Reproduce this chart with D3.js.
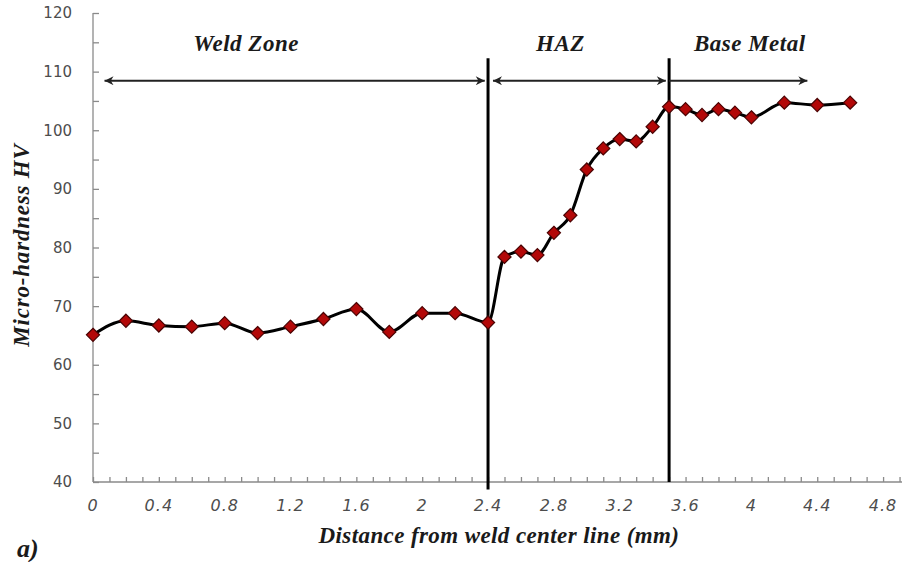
<!DOCTYPE html>
<html>
<head>
<meta charset="utf-8">
<script src="https://cdn.jsdelivr.net/npm/d3@7"></script>
<style>
  body { margin: 0; background: #fff; }
  svg { display: block; }
</style>
</head>
<body>
<div id="chart"></div>
<script>
// distance from weld center line (mm) and micro-hardness (HV)
const distance = [0, 0.2, 0.4, 0.6, 0.8, 1.0, 1.2, 1.4, 1.6, 1.8, 2.0, 2.2, 2.4,
  2.5, 2.6, 2.7, 2.8, 2.9, 3.0, 3.1, 3.2, 3.3, 3.4, 3.5,
  3.6, 3.7, 3.8, 3.9, 4.0, 4.2, 4.4, 4.6];
const hardness = [65.1, 67.5, 66.7, 66.5, 67.1, 65.4, 66.5, 67.8, 69.5, 65.6, 68.8, 68.8, 67.2,
  78.4, 79.3, 78.7, 82.5, 85.5, 93.3, 96.9, 98.5, 98.1, 100.6, 104.0,
  103.6, 102.6, 103.6, 103.0, 102.2, 104.7, 104.3, 104.7];

const xTicks = [0, 0.4, 0.8, 1.2, 1.6, 2, 2.4, 2.8, 3.2, 3.6, 4, 4.4, 4.8];
const yTicks = [40, 50, 60, 70, 80, 90, 100, 110, 120];

const zoneNames = ["Weld Zone", "HAZ", "Base Metal"];
const zoneBounds = [2.4, 3.5];

const width = 902;
const height = 562;

const x = d3.scaleLinear().domain([0, 5]).range([93, 93 + 5 * 164.6]);
const y = d3.scaleLinear().domain([40, 120]).range([482, 13]);

const svg = d3.select('#chart').append('svg')
  .attr('width', width).attr('height', height);

const grey = '#8a8a8a';
const serif = 'Liberation Serif, serif';

// y axis
const yAxis = g => g
  .attr('transform', `translate(${x(0)},0)`)
  .call(d3.axisRight(y).tickValues(d3.range(40, 121, 5)).tickSize(6).tickFormat(''))
  .call(g => g.selectAll('line,path').attr('stroke', grey).attr('stroke-width', 1.3))
  .call(g => g.select('.domain').attr('d', `M0,${y(40)}V${y(120)}`));
svg.append('g').call(yAxis);

svg.append('g').selectAll('text').data(yTicks).enter().append('text')
  .attr('x', 72).attr('y', d => y(d)).attr('dy', '0.36em')
  .attr('text-anchor', 'end')
  .style('font-family', 'DejaVu Sans, sans-serif').style('font-size', '15px')
  .attr('fill', '#4d4d4d')
  .text(d => d);

// x axis
const xAxis = g => g
  .attr('transform', `translate(0,${y(40)})`)
  .call(d3.axisTop(x).tickValues(d3.range(0, 50).map(i => i / 10)).tickSize(5).tickFormat(''))
  .call(g => g.selectAll('line,path').attr('stroke', grey).attr('stroke-width', 1.3))
  .call(g => g.select('.domain').attr('d', `M${x(0)},0H${x(5)}`));
svg.append('g').call(xAxis);

svg.append('g').selectAll('text').data(xTicks).enter().append('text')
  .attr('x', d => x(d)).attr('y', 505).attr('dy', '0.36em')
  .attr('text-anchor', 'middle')
  .style('font-family', 'DejaVu Sans, sans-serif').style('font-size', '16px')
  .style('font-style', 'italic').style('letter-spacing', '1px')
  .attr('fill', '#4d4d4d')
  .text(d => d);

// zone boundaries
svg.append('g').selectAll('line').data(zoneBounds).enter().append('line')
  .attr('x1', d => x(d)).attr('x2', d => x(d))
  .attr('y1', y(112.3)).attr('y2', (d, i) => i === 0 ? y(38.7) : y(40))
  .attr('stroke', '#000').attr('stroke-width', 3);

// arrows
const defs = svg.append('defs');
['arrEnd', 'arrStart'].forEach((id, i) => {
  defs.append('marker').attr('id', id)
    .attr('viewBox', '0 0 10 10').attr('refX', 10).attr('refY', 5)
    .attr('markerWidth', 11).attr('markerHeight', 9).attr('markerUnits', 'userSpaceOnUse')
    .attr('orient', i === 0 ? 'auto' : 'auto-start-reverse')
    .append('path').attr('d', 'M0,0L10,5L0,10L3,5Z').attr('fill', '#222');
});

const arrowY = y(108.45);
const arrowSpans = [[0.07, 2.38, true], [2.43, 3.48, true], [3.5, 4.34, false]];
svg.append('g').selectAll('line').data(arrowSpans).enter().append('line')
  .attr('x1', d => x(d[0])).attr('x2', d => x(d[1]))
  .attr('y1', arrowY).attr('y2', arrowY)
  .attr('stroke', '#222').attr('stroke-width', 2)
  .attr('marker-end', 'url(#arrEnd)')
  .attr('marker-start', d => d[2] ? 'url(#arrStart)' : null);

const labelX = [0.93, 2.84, 3.99];
svg.append('g').selectAll('text').data(zoneNames).enter().append('text')
  .attr('x', (d, i) => x(labelX[i])).attr('y', 51)
  .attr('text-anchor', 'middle')
  .style('font-family', serif).style('font-size', '23px')
  .style('font-style', 'italic').style('font-weight', 'bold')
  .style('letter-spacing', '0.5px')
  .attr('fill', '#1a1a1a')
  .text(d => d);

// data line
const pts = distance.map((d, i) => [d, hardness[i]]);
const line = d3.line()
  .x(d => x(d[0])).y(d => y(d[1]))
  .curve(d3.curveMonotoneX);
svg.append('path').datum(pts)
  .attr('d', line)
  .attr('fill', 'none').attr('stroke', '#000').attr('stroke-width', 3);

const sym = d3.symbol().type(d3.symbolDiamond2).size(110);
svg.append('g').selectAll('path').data(pts).enter().append('path')
  .attr('transform', d => `translate(${x(d[0])},${y(d[1])})`)
  .attr('d', sym)
  .attr('fill', '#b30808').attr('stroke', '#4a0303').attr('stroke-width', 1.2);

// axis titles
svg.append('text')
  .attr('transform', 'translate(29,245) rotate(-90)')
  .attr('text-anchor', 'middle')
  .style('font-family', serif).style('font-size', '23px')
  .style('font-style', 'italic').style('font-weight', 'bold')
  .style('letter-spacing', '0.8px')
  .attr('fill', '#1a1a1a')
  .text('Micro-hardness  HV');

svg.append('text')
  .attr('x', 499).attr('y', 543)
  .attr('text-anchor', 'middle')
  .style('font-family', serif).style('font-size', '23px')
  .style('font-style', 'italic').style('font-weight', 'bold')
  .style('letter-spacing', '0.4px')
  .attr('fill', '#1a1a1a')
  .text('Distance from weld center line (mm)');

svg.append('text')
  .attr('x', 17).attr('y', 557)
  .style('font-family', serif).style('font-size', '26px')
  .style('font-style', 'italic').style('font-weight', 'bold')
  .attr('fill', '#1a1a1a')
  .text('a)');
</script>
</body>
</html>
